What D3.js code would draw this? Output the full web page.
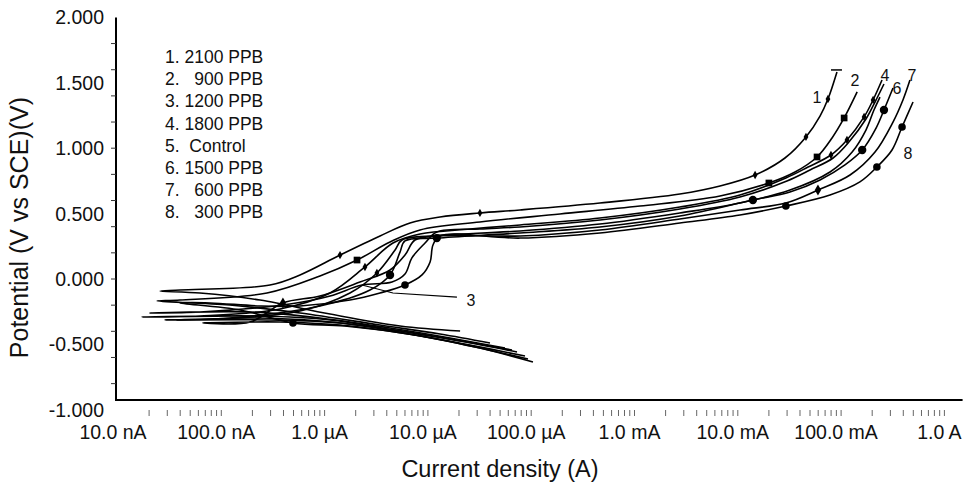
<!DOCTYPE html>
<html><head><meta charset="utf-8">
<script src="https://cdn.jsdelivr.net/npm/d3@7"></script>
<style>
html,body{margin:0;padding:0;background:#fff;}
svg{display:block;font-family:Arial,"Liberation Sans",sans-serif;}
</style></head><body>
<svg id="chart" width="963" height="482"></svg>
<script>
// ---- Data: [current (A), potential (V vs SCE), marker flag] ----
const seriesNames = ["2100 PPB", "900 PPB", "1200 PPB", "1800 PPB", "Control", "1500 PPB", "600 PPB", "300 PPB"];
const legendText = ["1. 2100 PPB", "2.   900 PPB", "3. 1200 PPB", "4. 1800 PPB", "5.  Control", "6. 1500 PPB", "7.   600 PPB", "8.   300 PPB"];

const curve1 = [
 [2.05e-5,-0.398],[5.37e-6,-0.359],[1.13e-6,-0.268],[2.37e-7,-0.161],[6.22e-8,-0.107],[2.55e-8,-0.092],
 [3.98e-8,-0.084],[2.96e-7,-0.046],[5.78e-7,0.031],[1.41e-6,0.183,1],[3.44e-6,0.329],[6.71e-6,0.428],[1.31e-5,0.474],
 [3.19e-5,0.505,1],[7.80e-5,0.528],[4.63e-4,0.581],[2.75e-3,0.650],[6.73e-3,0.711],[1.47e-2,0.795,1],[2.86e-2,0.925],
 [4.57e-2,1.086,1],[6.25e-2,1.246],[7.46e-2,1.376,1],[9.12e-2,1.583]
];
const curve2 = [
 [3.99e-5,-0.489],[1.31e-5,-0.420],[3.44e-6,-0.352],[5.78e-7,-0.260],[1.21e-7,-0.199],[2.39e-8,-0.168],
 [3.98e-8,-0.161],[2.77e-7,-0.107],[9.02e-7,0.023],[2.06e-6,0.145,1],[4.30e-6,0.283],[8.39e-6,0.375],[3.19e-5,0.436],
 [1.90e-4,0.497],[1.13e-3,0.558],[6.73e-3,0.635],[2.0e-2,0.734,1],[3.58e-2,0.818],[5.85e-2,0.933,1],[8.17e-2,1.078],
 [0.107,1.231,1],[0.143,1.430]
];
const curve3 = [
 [5.57e-5,-0.528],[1.64e-5,-0.451],[4.30e-6,-0.375],[9.02e-7,-0.298],[1.90e-7,-0.252],[2.04e-8,-0.260],
 [6.22e-8,-0.252],[4.62e-7,-0.191],[1.13e-6,-0.130],[2.30e-6,-0.046],[4.49e-6,-0.023],[6.0e-6,0.038],[7.0e-6,0.161],
 [9.38e-6,0.275],[1.22e-5,0.359],[3.19e-5,0.382],[7.80e-5,0.398],[4.63e-4,0.451],[2.75e-3,0.535],[1.05e-2,0.627],
 [2.99e-2,0.749],[5.0e-2,0.833],[8.36e-2,0.925],[0.119,1.047],[0.174,1.223],[0.213,1.353],[0.260,1.491]
];
const curve4 = [
 [7.29e-5,-0.558],[2.05e-5,-0.474],[5.37e-6,-0.398],[1.13e-6,-0.313],[2.37e-7,-0.283],[1.71e-8,-0.291],
 [6.22e-8,-0.283],[3.70e-7,-0.229],[1.13e-6,-0.107],[2.46e-6,0.092,1],[4.59e-6,0.275],[8.39e-6,0.344],[2.56e-5,0.382],
 [7.80e-5,0.413],[4.63e-4,0.466],[2.75e-3,0.550],[1.05e-2,0.642],[2.92e-2,0.772],[4.79e-2,0.856],[7.98e-2,0.948,1],
 [0.114,1.063,1],[0.167,1.239,1],[0.204,1.369,1],[0.249,1.521]
];
const curve5 = [
 [8.71e-5,-0.589],[2.56e-5,-0.505],[6.71e-6,-0.420],[1.41e-6,-0.336],[2.96e-7,-0.313],[2.85e-8,-0.313],
 [9.70e-8,-0.306],[5.78e-7,-0.245],[1.76e-6,-0.107],[3.21e-6,0.046,1],[4.81e-6,0.222],[5.61e-6,0.298],[1.05e-5,0.329],
 [7.80e-5,0.367],[4.63e-4,0.420],[2.75e-3,0.505],[1.05e-2,0.581],[3.20e-2,0.680],[7.81e-2,0.818],[0.128,0.971],
 [0.174,1.139],[0.208,1.292],[0.238,1.391]
];
const curve6 = [
 [6.52e-5,-0.543],[1.83e-5,-0.466],[4.81e-6,-0.390],[9.02e-7,-0.321],[1.90e-7,-0.298],[3.72e-8,-0.313],
 [1.21e-7,-0.298],[9.02e-7,-0.206],[2.75e-6,-0.084],[4.30e-6,0.031,1],[5.37e-6,0.206],[6.0e-6,0.291],[1.22e-5,0.313,1],
 [7.80e-5,0.352],[4.63e-4,0.398],[2.75e-3,0.482],[1.40e-2,0.604,1],[3.20e-2,0.665],[6.25e-2,0.757],[0.109,0.872],
 [0.160,0.986,1],[0.218,1.154],[0.260,1.292,1],[0.318,1.460]
];
const curve7 = [
 [1.04e-4,-0.635],[3.19e-5,-0.528],[8.39e-6,-0.436],[1.76e-6,-0.359],[3.70e-7,-0.329],[6.65e-8,-0.336],
 [1.90e-7,-0.329],[3.95e-7,-0.183,1],[9.02e-7,-0.130],[2.20e-6,-0.023],[4.30e-6,0.069],[6.0e-6,0.183],[7.5e-6,0.298],
 [1.31e-5,0.329],[7.80e-5,0.329],[4.63e-4,0.375],[2.75e-3,0.459],[1.05e-2,0.528],[2.92e-2,0.581],[5.97e-2,0.680,1],
 [0.122,0.795],[0.213,0.971],[0.318,1.200],[0.397,1.369],[0.464,1.521]
];
const curve8 = [
 [9.31e-5,-0.612],[2.86e-5,-0.520],[7.5e-6,-0.428],[1.57e-6,-0.359],[4.94e-7,-0.336,1],[1.52e-7,-0.237],[3.98e-8,-0.183],
 [7.78e-8,-0.183],[2.37e-7,-0.206],[5.78e-7,-0.206],[1.76e-6,-0.161],[3.44e-6,-0.107],[6.0e-6,-0.046,1],[8.77e-6,0.031],
 [1.05e-5,0.130],[1.12e-5,0.260],[1.31e-5,0.329],[7.80e-5,0.313],[4.63e-4,0.352],[2.75e-3,0.428],[1.05e-2,0.489],
 [2.92e-2,0.558,1],[7.81e-2,0.642],[0.152,0.742],[0.222,0.856,1],[0.311,0.986],[0.389,1.162,1],[0.497,1.353]
];
const curves = [curve1, curve2, curve3, curve4, curve5, curve6, curve7, curve8];

// curve number annotations (text, current, potential)
const curveLabels = [
 ["1", 5.85e-2, 1.391], ["2", 0.136, 1.521], ["4", 0.266, 1.560], ["6", 0.347, 1.460],
 ["7", 0.485, 1.560], ["8", 0.445, 0.963], ["3", 2.61e-5, -0.161]
];
const leader3 = [[1.91e-5,-0.138],[4.59e-6,-0.107],[2.30e-6,-0.046]];

// axis labels
const yLabelValues = [2.0, 1.5, 1.0, 0.5, 0.0, -0.5, -1.0];
const yLabelText = ["2.000", "1.500", "1.000", "0.500", "0.000", "-0.500", "-1.000"];
const xLabelValues = [1e-8, 1e-7, 1e-6, 1e-5, 1e-4, 1e-3, 1e-2, 1e-1, 1];
const xLabelText = ["10.0 nA", "100.0 nA", "1.0 \u00b5A", "10.0 \u00b5A", "100.0 \u00b5A", "1.0 mA", "10.0 mA", "100.0 mA", "1.0 A"];

// ---- Layout ----
const svg = d3.select("#chart");
const x = d3.scaleLog().domain([1e-8, 1]).range([118, 944.4]);
const y = d3.scaleLinear().domain([-1, 2]).range([409.8, 17.4]);
const axisYMin = -0.925, axisXMax = 1.5;

// axes lines
const axisG = svg.append("g").attr("stroke", "#000").attr("stroke-width", 2);
axisG.append("line").attr("x1", 116).attr("x2", 116).attr("y1", y(2.0)).attr("y2", y(axisYMin) + 1);
axisG.append("line").attr("x1", 115).attr("x2", x(axisXMax)).attr("y1", y(axisYMin)).attr("y2", y(axisYMin));

// y ticks every 0.2
const yTicks = d3.range(-8, 19, 2).map(d => d / 10);
svg.append("g").selectAll("line").data(yTicks).join("line")
  .attr("x1", 111).attr("x2", 116).attr("y1", d => y(d)).attr("y2", d => y(d))
  .attr("stroke", "#333").attr("stroke-width", 1);

// x minor ticks (log)
const xTicks = [];
for (let e = -8; e <= -1; e++) for (let k = 2; k <= 10; k++) xTicks.push(k * Math.pow(10, e));
svg.append("g").selectAll("line").data(xTicks).join("line")
  .attr("x1", d => x(d)).attr("x2", d => x(d)).attr("y1", 410).attr("y2", 416)
  .attr("stroke", "#666").attr("stroke-width", 1);

// y labels
svg.append("g").selectAll("text").data(yLabelValues).join("text")
  .attr("x", 104).attr("y", d => y(d)).attr("dy", "0.36em")
  .attr("text-anchor", "end").attr("font-size", 19.5).attr("fill", "#111")
  .text((d, i) => yLabelText[i]);

// x labels
svg.append("g").selectAll("text").data(xLabelValues).join("text")
  .attr("x", d => x(d) - 5).attr("y", 439)
  .attr("text-anchor", "middle").attr("font-size", 19.5).attr("fill", "#111")
  .text((d, i) => xLabelText[i]);

// axis titles
svg.append("text").attr("x", 500).attr("y", 477).attr("text-anchor", "middle")
  .attr("font-size", 23.5).attr("fill", "#111").text("Current density (A)");
svg.append("text").attr("transform", "translate(28,97) rotate(-90)").attr("text-anchor", "end")
  .attr("font-size", 25).attr("fill", "#111").text("Potential (V vs SCE)(V)");

// legend
svg.append("g").selectAll("text").data(legendText).join("text")
  .attr("x", 165).attr("y", (d, i) => 63 + i * 22.2)
  .attr("font-size", 17.5).attr("fill", "#111").style("white-space", "pre")
  .text(d => d);

// curves
const line = d3.line().x(d => x(d[0])).y(d => y(d[1])).curve(d3.curveCatmullRom.alpha(0.5));
svg.append("g").selectAll("path").data(curves).join("path")
  .attr("d", line).attr("fill", "none").attr("stroke", "#000").attr("stroke-width", 1.6);

// markers
const symbolTypes = [
  [d3.symbolDiamond, 20], [d3.symbolSquare, 45], [d3.symbolTriangle, 20], [d3.symbolDiamond, 20],
  [d3.symbolDiamond, 20], [d3.symbolCircle, 55], [d3.symbolDiamond, 35], [d3.symbolCircle, 45]
];
curves.forEach((c, ci) => {
  const sym = d3.symbol().type(symbolTypes[ci][0]).size(symbolTypes[ci][1]);
  svg.append("g").selectAll("path").data(c.filter(p => p[2])).join("path")
    .attr("transform", d => `translate(${x(d[0])},${y(d[1])})`)
    .attr("d", sym).attr("fill", "#000");
});

// curve number labels
svg.append("g").selectAll("text").data(curveLabels).join("text")
  .attr("x", d => x(d[1])).attr("y", d => y(d[2])).attr("dy", "0.36em")
  .attr("text-anchor", "middle").attr("font-size", 16).attr("fill", "#111")
  .text(d => d[0]);

// leader line for label 3
svg.append("path").datum(leader3)
  .attr("d", d3.line().x(d => x(d[0])).y(d => y(d[1])))
  .attr("fill", "none").attr("stroke", "#000").attr("stroke-width", 1.2);

// end cap on curve 1
const c1end = curve1[curve1.length - 1];
svg.append("line").attr("x1", x(c1end[0]) - 6).attr("x2", x(c1end[0]) + 5)
  .attr("y1", y(c1end[1]) - 2).attr("y2", y(c1end[1]) - 2).attr("stroke", "#000").attr("stroke-width", 1.5);
</script></body></html>
